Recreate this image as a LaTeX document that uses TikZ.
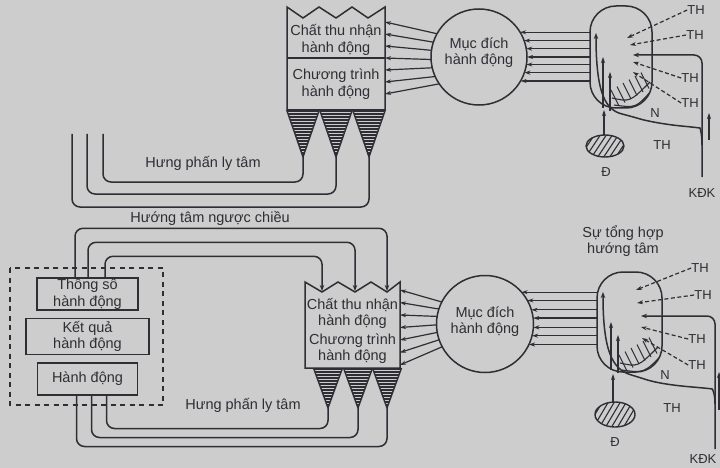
\documentclass[tikz,border=0pt]{standalone}
\usepackage{fontspec}
\setmainfont{Liberation Sans}
\usetikzlibrary{arrows.meta, calc, positioning}
\definecolor{paper}{RGB}{205,205,205}
\definecolor{ink}{RGB}{46,46,52}

\tikzset{
  wire/.style={draw=ink, line width=1.5pt, rounded corners=8pt},
  wirearr/.style={wire, -{Stealth[length=6pt,width=4.5pt]}},
  arr/.style={draw=ink, line width=1.2pt, -{Stealth[length=6pt,width=4pt]}},
  dasharr/.style={arr, dash pattern=on 4pt off 2.5pt},
  cone/.style={draw=ink, line width=1.4pt, line join=round},
  hatchline/.style={draw=ink, line width=1.1pt},
  dashframe/.style={draw=ink, line width=1.4pt, dash pattern=on 5pt off 4.5pt},
  txt/.style={text=ink, font=\fontsize{14.5}{16.5}\selectfont, align=center, inner sep=0pt},
  thlbl/.style={text=ink, font=\fontsize{13}{15}\selectfont, inner sep=0pt},
  goal/.style={circle, draw=ink, line width=1.5pt, minimum size=96pt, inner sep=0pt, outer sep=0pt},
  oval/.style={rectangle, rounded corners=26pt, draw=ink, line width=1.5pt, minimum width=62pt, minimum height=102pt, inner sep=0pt, outer sep=0pt},
  blk/.style={rectangle, draw=ink, line width=1.4pt, txt},
}

\begin{document}
\begin{tikzpicture}[x=1pt, y=-1pt]
    % paper
    \fill[paper] (0,0) rectangle (720,468);
    \useasboundingbox (0,0) rectangle (720,468);

    %%%%% upper chain
    % receiver / programme block
    \draw[wire, sharp corners] (287,110) -- (287,7) -- (303,18) -- (319,7) -- (336,18) -- (352,7) -- (368,18) -- (385,7) -- (385,110) -- cycle;
    \draw[wire] (287,58) -- (385,58);
    \node[txt] (recvA) at (336,40) {Chất thu nhận\\hành động};
    \node[txt] (progA) at (336,84) {Chương trình\\hành động};
    \coordinate (edgeA) at (385,22);

    % output cones
    \foreach \cx [count=\k] in {303,336,369}{
        \begin{scope}
            \clip (\cx-16.3,110) -- (\cx+16.3,110) -- (\cx,157) -- cycle;
            \foreach \hy in {111,114,...,156}
                \draw[ink, line width=1.6pt] (\cx-17,\hy) -- (\cx+17,\hy);
        \end{scope}
        \draw[cone] (\cx-16.3,110) -- (\cx,157) -- (\cx+16.3,110);
        \coordinate (coneA\k) at (\cx,157);
    }

    % centrifugal loops
    \coordinate (endA1) at (103,134);
    \coordinate (endA2) at (87,134);
    \coordinate (endA3) at (72,134);
    \draw[wire] (coneA1) -- ++(0,25) -| (endA1);
    \draw[wire] (coneA2) -- ++(0,37) -| (endA2);
    \draw[wire] (coneA3) -- ++(0,50) -| (endA3);
    \node[txt] (hungA) at (203,163) {Hưng phấn ly tâm};

    % goal
    \node[goal] (goalA) at (479,57) {};
    \node[txt] at ([yshift=4.5pt]goalA.center) {Mục đích\\hành động};
    \foreach \i in {0,...,6}{
        \pgfmathtruncatemacro\ang{round(151.4+10.45*\i)}
        \draw[arr] (goalA.\ang) -- ([yshift={-12*\i}]edgeA);
    }

    % afferent synthesis
    \node[oval] (sumA) at (621,57) {};
    \foreach \i in {0,...,6}{
        \pgfmathtruncatemacro\ang{round(360-asin((-25+8.2*\i)/48))}
        \draw[arr] (goalA.\ang -| sumA.west) -- (goalA.\ang);
    }
    \begin{scope}
        \clip[rounded corners=26pt] (590,6) rectangle (652,108);
        \foreach \k in {0,...,5}
            \draw[hatchline] (611+6*\k,90-3.5*\k) -- (619+6*\k,106-3.5*\k);
        \draw[hatchline] (612,98) .. controls (630,102) .. (650,82);
        \draw[hatchline] (614,105) .. controls (636,108) .. (652,90);
    \end{scope}

    % environment line
    \coordinate (kdkA) at (702,177);
    \coordinate (mergeA) at (702,145);
    \draw[wirearr] (kdkA) -- (702,55) -- (633,55);
    \draw[wirearr] (mergeA) .. controls (702,133) and (700,128) .. (692,127) .. controls (670,125) and (650,122) .. (630,116) .. controls (606,110) and (596,95) .. (596,33);
    \draw[arr] (603,108) -- (603,57);
    \draw[arr] (610,111) -- (610,72);
    \draw[arr] (709,140) -- (709,113);
    \node[thlbl] (kdkAlbl) at (702,193) {KĐK};

    % dominant
    \begin{scope}
        \clip (605,146) ellipse [x radius=19, y radius=11];
        \foreach \s in {-36,-30,...,36}
            \draw[hatchline] (605+\s-8,158) -- (605+\s+8,134);
    \end{scope}
    \draw[ink, line width=1.4pt] (605,146) ellipse [x radius=19, y radius=11];
    \coordinate (domA) at (604,135);
    \draw[arr] (domA) -- (604,110);
    \node[thlbl] (domAlbl) at (606,172) {Đ};

    % situational inputs
    \node[thlbl] (thA1) at (696,10) {TH};
    \node[thlbl] (thA2) at (695,35) {TH};
    \node[thlbl] (thA3) at (690,78) {TH};
    \node[thlbl] (thA4) at (690,103) {TH};
    \draw[dasharr] (thA1.west) -- (627,38);
    \draw[dasharr] (thA2.west) -- (630,45);
    \draw[dasharr] (thA3.west) -- (633,62);
    \draw[dasharr] (thA4.west) -- (633,72);
    \node[thlbl] (nA) at (655,113) {N};
    \node[thlbl] (thA5) at (662,145) {TH};

    \node[txt] (huong) at (210,218) {Hướng tâm ngược chiều};

    %%%%% lower chain
    % action frame
    \draw[dashframe] (10,268) rectangle (163,405);
    \node[blk, minimum width=101pt, minimum height=32pt] (param) at (87.5,294) {Thông số\\hành động};
    \node[blk, minimum width=123pt, minimum height=36pt, below=7pt of param] (result) {Kết quả\\hành động};
    \node[blk, minimum width=100pt, minimum height=32pt, below=7pt of result] (act) {Hành động};

    % receiver / programme block
    \draw[wire, sharp corners] (305,368) -- (305,282) -- (322,292) -- (338,282) -- (355,292) -- (371,282) -- (387,292) -- (400,282) -- (400,368) -- cycle;
    \node[txt] (recvB) at (352.5,313.5) {Chất thu nhận\\hành động};
    \node[txt] (progB) at (352.5,348.5) {Chương trình\\hành động};
    \coordinate (valleyB1) at (322,291);
    \coordinate (valleyB2) at (355,291);
    \coordinate (valleyB3) at (387,291);
    \coordinate (edgeB) at (400,290);

    \foreach \cx [count=\k] in {328,358,387}{
        \begin{scope}
            \clip (\cx-14.5,368) -- (\cx+14.5,368) -- (\cx,408) -- cycle;
            \foreach \hy in {369,372,...,408}
                \draw[ink, line width=1.6pt] (\cx-15,\hy) -- (\cx+15,\hy);
        \end{scope}
        \draw[cone] (\cx-14.5,368) -- (\cx,408) -- (\cx+14.5,368);
        \coordinate (coneB\k) at (\cx,408);
    }

    % reverse afferent loops
    \draw[wirearr] ([xshift=-12.5pt]param.north) -- ++(0,-49) -| (valleyB3);
    \draw[wirearr] ([xshift=0.5pt]param.north) -- ++(0,-35) -| (valleyB2);
    \draw[wirearr] ([xshift=17.5pt]param.north) -- ++(0,-21) -| (valleyB1);

    % centrifugal loops
    \draw[wire] ([xshift=19pt]act.south) -- ++(0,33) -| (coneB1);
    \draw[wire] ([xshift=4pt]act.south) -- ++(0,42) -| (coneB2);
    \draw[wire] ([xshift=-11pt]act.south) -- ++(0,51) -| (coneB3);
    \node[txt] (hungB) at (243,405) {Hưng phấn ly tâm};

    % goal
    \node[goal, minimum size=97pt] (goalB) at (485,324) {};
    \node[txt] at ([yshift=2.5pt]goalB.center) {Mục đích\\hành động};
    \foreach \i in {0,...,6}{
        \pgfmathtruncatemacro\ang{round(153+9.2*\i)}
        \draw[arr] (goalB.\ang) -- ([yshift={-12.5*\i}]edgeB);
    }

    % afferent synthesis
    \node[oval, minimum width=65pt, minimum height=100pt] (sumB) at (629.5,322) {};
    \node[txt] (sumBlbl) at (623,241) {Sự tổng hợp\\hướng tâm};
    \foreach \i in {0,...,6}{
        \pgfmathtruncatemacro\ang{round(360-asin((-32+8.8*\i)/48.5))}
        \draw[arr] (goalB.\ang -| sumB.west) -- (goalB.\ang);
    }
    \begin{scope}
        \clip[rounded corners=26pt] (597,272) rectangle (662,372);
        \foreach \k in {0,...,5}
            \draw[hatchline] (619+6*\k,355-3.5*\k) -- (627+6*\k,371-3.5*\k);
        \draw[hatchline] (620,363) .. controls (638,367) .. (658,347);
        \draw[hatchline] (622,370) .. controls (644,373) .. (662,355);
    \end{scope}

    % environment line
    \coordinate (kdkB) at (715,449);
    \coordinate (mergeB) at (715,404);
    \draw[wirearr] (kdkB) -- (715,316) -- (641,316);
    \draw[wirearr] (mergeB) .. controls (715,395) and (713,389) .. (704,388) .. controls (680,386) and (660,384) .. (638,377) .. controls (612,369) and (603,350) .. (603,292);
    \draw[arr] (611,370) -- (611,322);
    \draw[arr] (618,373) -- (618,335);
    \draw[arr] (719,410) -- (719,372);
    \node[thlbl] (kdkBlbl) at (703,459) {KĐK};

    % dominant
    \begin{scope}
        \clip (615,414.5) ellipse [x radius=20, y radius=12.5];
        \foreach \s in {-38,-32,...,38}
            \draw[hatchline] (615+\s-8,428) -- (615+\s+8,401);
    \end{scope}
    \draw[ink, line width=1.4pt] (615,414.5) ellipse [x radius=20, y radius=12.5];
    \coordinate (domB) at (613,402);
    \draw[arr] (domB) -- (613,374);
    \node[thlbl] (domBlbl) at (615,442) {Đ};

    % situational inputs
    \node[thlbl] (thB1) at (700,268) {TH};
    \node[thlbl] (thB2) at (703,295) {TH};
    \node[thlbl] (thB3) at (697,339) {TH};
    \node[thlbl] (thB4) at (697,365) {TH};
    \draw[dasharr] (thB1.west) -- (636,290);
    \draw[dasharr] (thB2.west) -- (637,303);
    \draw[dasharr] (thB3.west) -- (641,327);
    \draw[dasharr] (thB4.west) -- (642,338);
    \node[thlbl] (nB) at (665,375) {N};
    \node[thlbl] (thB5) at (672,408) {TH};
\end{tikzpicture}
\end{document}
